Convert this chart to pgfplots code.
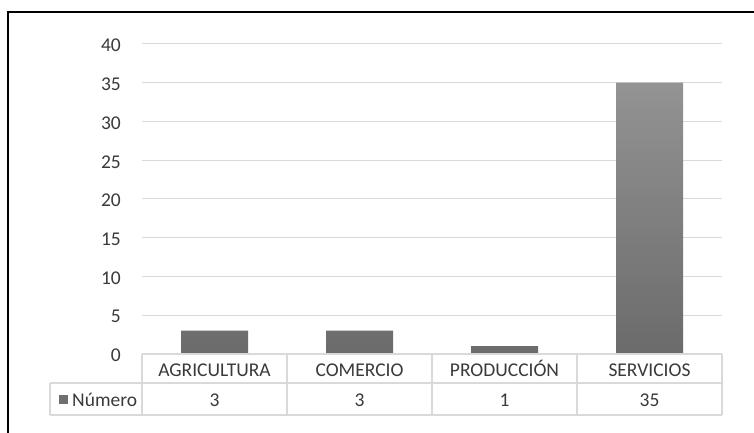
\documentclass[border=0pt]{standalone}
\usepackage{pgfplots}
\pgfplotsset{compat=1.18}
\usepackage{fontspec}
\setmainfont{Carlito}
\definecolor{txt}{HTML}{3A3A3A}
\definecolor{gridc}{HTML}{D9D9D9}
\definecolor{bartop}{HTML}{939393}
\definecolor{barbot}{HTML}{6B6B6B}
\newcommand\chartfont{\fontsize{19.5bp}{22bp}\selectfont}
\begin{document}
\chartfont
\begin{tikzpicture}[x=1bp,y=1bp]
\useasboundingbox (0,0) rectangle (754,433);
\fill[white] (0,0) rectangle (754,433);
% outer frame (left and top edges)
\draw[black, line width=1.5bp] (8,0) -- (8,421) -- (754,421);
\begin{axis}[
  at={(142bp,79bp)}, anchor=south west,
  scale only axis, width=580bp, height=310bp,
  xmin=-0.5, xmax=3.5, ymin=0, ymax=40,
  ytick={0,5,...,40},
  xtick=data, xticklabels={AGRICULTURA,COMERCIO,PRODUCCIÓN,SERVICIOS},
  axis line style={draw=none},
  major tick length=0pt,
  ymajorgrids, grid style={gridc, line width=1bp},
  tick label style={font=\chartfont, text=txt},
  yticklabel style={anchor=east, inner sep=0pt, xshift=-21bp, yshift=-1.5bp},
  xticklabel style={anchor=base, inner sep=0pt, yshift=-22.5bp},
  /pgf/number format/assume math mode=true,
  clip=false,
]
\addplot[ybar, bar width=67bp, draw=none, top color=bartop, bottom color=barbot,
  nodes near coords, scatter/position=absolute,
  nodes near coords style={at={(axis cs:\pgfkeysvalueof{/data point/x},0)},
    anchor=base, yshift=-53bp, inner sep=0pt, text=txt, font=\chartfont}]
  coordinates {(0,3) (1,3) (2,1) (3,35)};
\end{axis}
% data table below the plot
\begin{scope}[gridc, line width=1.5bp]
\draw (142,79) -- (722,79);
\draw (50,50) -- (722,50);
\draw (50,18) -- (722,18);
\draw (50,18) -- (50,50);
\foreach \xx in {142,287,432,577,722} \draw (\xx,18) -- (\xx,79);
\end{scope}
\fill[barbot!90!bartop] (59,29) rectangle (68,38);
\node[anchor=base west, inner sep=0pt, text=txt] at (72,26) {Número};
\end{tikzpicture}
\end{document}
